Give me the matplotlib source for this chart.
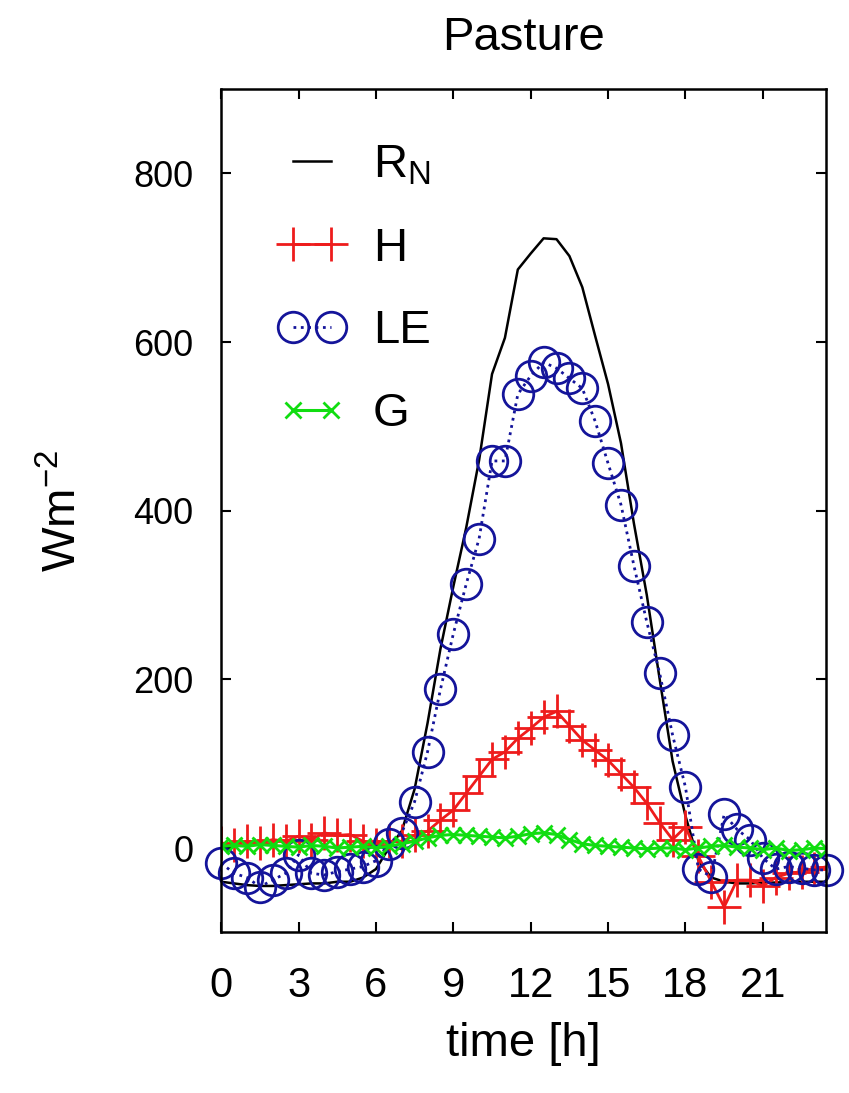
import numpy as np
import matplotlib
matplotlib.use("Agg")
import matplotlib.pyplot as plt

plt.rcParams['font.family'] = ['Liberation Sans', 'DejaVu Sans']
plt.rcParams['mathtext.default'] = 'regular'

# half-hourly time axis [h]
hours = np.arange(0, 24, 0.5)

# net radiation
rn = [-40, -42, -44, -45, -45, -44, -43, -42, -42, -40, -40, -35,
      -25, 0, 20, 70, 148, 236, 310, 380, 460, 562, 605, 686,
      705, 723, 722, 702, 665, 607, 550, 480, 385, 300, 200, 103,
      38, -15, -35, -40, -42, -42, -41, -41, -40, -40, -40, -40]

# sensible heat
h = [6, 4, 8, 6, 10, 8, 14, 10, 18, 15, 16, 8,
     4, 8, 8, 15, 20, 33, 45, 65, 85, 105, 114, 130,
     142, 155, 162, 145, 128, 116, 104, 88, 72, 53, 30, 10,
     25, -10, -40, -70, -38, -38, -45, -35, -30, -28, -25, -22]

# latent heat
le = [-18, -30, -35, -46, -38, -30, -8, -30, -32, -28, -25, -22,
      -15, 5, 18, 55, 114, 188, 254, 313, 367, 459, 459, 538,
      560, 576, 569, 557, 545, 506, 456, 407, 335, 268, 207, 134,
      72, -25, -34, 40, 22, 10, -12, -25, -22, -24, -26, -26]

# ground heat
g = [2, 3, 2, 4, 3, 2, 1, 3, 2, 0, 1, 2,
     0, 2, 5, 8, 12, 15, 16, 15, 14, 13, 12, 14,
     17, 18, 16, 10, 5, 3, 2, 1, 0, -1, 0, 0,
     -2, 0, 2, 3, 1, 0, -2, 0, -3, -2, 0, -1]

xticks = [0, 3, 6, 9, 12, 15, 18, 21]
yticks = [0, 200, 400, 600, 800]

fig = plt.figure(figsize=(8.49, 10.93), dpi=100)
ax = fig.add_axes([0.2605, 0.147, 0.7125, 0.7715])

ax.plot(hours, rn, color='black', lw=1.8, label='R$_{N}$')
ax.plot(hours, h, color='#ee1c1c', lw=2.0, marker='+', ms=24, mew=2.0,
        label='H')
ax.plot(hours, le, color='#14149a', lw=2.0, ls=':', marker='o', ms=22,
        mfc='none', mew=2.0, label='LE', clip_on=False)
ax.plot(hours, g, color='#11dd11', lw=2.2, marker='x', ms=11, mew=2.0,
        label='G')

ax.set_xlim(0, 23.45)
ax.set_ylim(-100, 900)
ax.set_xticks(xticks)
ax.set_yticks(yticks)
ax.tick_params(direction='in', top=True, right=True, length=7, width=1.5)
ax.tick_params(axis='x', labelsize=30, pad=24)
ax.tick_params(axis='y', labelsize=26, pad=20)
for s in ax.spines.values():
    s.set_linewidth(1.8)

ax.set_title('Pasture', fontsize=34, pad=28)
ax.set_xlabel('time [h]', fontsize=34, labelpad=12)
ax.set_ylabel('Wm$^{-2}$', fontsize=34, labelpad=34)

ax.legend(loc='upper left', bbox_to_anchor=(0.095, 0.935), frameon=False,
          numpoints=2, fontsize=34, handlelength=1.4, handletextpad=0.6,
          labelspacing=0.82, borderaxespad=0, borderpad=0)

fig.savefig('out.png', dpi=100)
